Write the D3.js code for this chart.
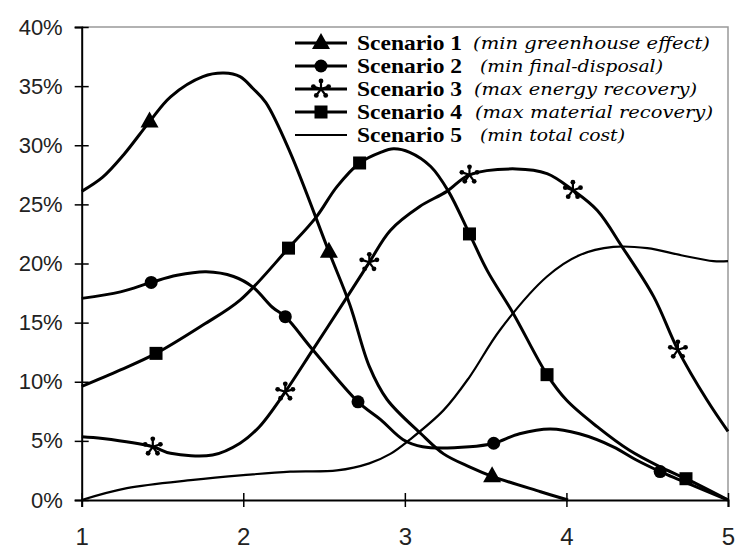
<!DOCTYPE html>
<html>
<head>
<meta charset="utf-8">
<script src="https://cdn.jsdelivr.net/npm/d3@7"></script>
<style>
  body { margin: 0; background: #fff; }
  svg { display: block; }
</style>
</head>
<body>
<script>
'use strict';

// x ticks and y ticks (percent)
const xTicks = [1, 2, 3, 4, 5];
const yTicks = [0, 5, 10, 15, 20, 25, 30, 35, 40];

// curves: [x, percent]
const s1 = [[1.00, 26.1], [1.13, 27.3], [1.26, 29.2], [1.42, 32.0], [1.55, 34.1], [1.75, 35.8], [1.88, 36.1],
  [1.98, 35.8], [2.06, 34.8], [2.14, 33.6], [2.29, 29.4], [2.53, 21.0], [2.66, 16.5], [2.78, 11.3], [2.89, 8.5],
  [3.10, 5.6], [3.24, 3.9], [3.40, 2.8], [3.54, 2.0], [3.84, 0.7], [4.01, 0]];
const s2 = [[1.00, 17.05], [1.24, 17.6], [1.43, 18.4], [1.59, 19.0], [1.77, 19.3], [1.94, 18.9], [2.06, 18.0],
  [2.18, 16.3], [2.26, 15.5], [2.43, 12.7], [2.71, 8.3], [2.85, 6.8], [2.99, 5.1], [3.11, 4.5], [3.40, 4.5],
  [3.55, 4.8], [3.71, 5.6], [3.90, 6.0], [4.08, 5.6], [4.29, 4.5], [4.43, 3.4], [4.58, 2.4], [4.70, 1.7], [5.00, 0]];
const s3 = [[1.00, 5.35], [1.13, 5.2], [1.44, 4.5], [1.55, 3.95], [1.81, 3.8], [1.98, 4.8], [2.10, 6.2],
  [2.26, 9.15], [2.43, 12.7], [2.63, 16.9], [2.78, 20.1], [2.91, 22.8], [3.09, 24.8], [3.26, 26.1], [3.40, 27.5],
  [3.69, 28.0], [3.88, 27.6], [4.04, 26.2], [4.19, 24.5], [4.35, 21.3], [4.54, 17.2], [4.69, 12.7], [4.87, 8.45], [5.00, 5.8]];
const s4 = [[1.00, 9.6], [1.24, 11.0], [1.46, 12.4], [1.75, 14.8], [1.98, 16.9], [2.28, 21.3], [2.45, 23.9],
  [2.58, 26.5], [2.72, 28.5], [2.85, 29.4], [2.93, 29.7], [3.03, 29.4], [3.16, 28.2], [3.27, 26.1], [3.40, 22.5],
  [3.51, 19.4], [3.67, 15.8], [3.88, 10.6], [4.00, 8.45], [4.19, 6.2], [4.39, 4.2], [4.58, 2.8], [4.74, 1.8], [5.00, 0]];
const s5 = [[1.00, 0], [1.28, 1.0], [1.69, 1.7], [2.00, 2.1], [2.29, 2.4], [2.58, 2.5], [2.78, 3.1], [2.91, 3.9],
  [3.03, 5.1], [3.24, 7.6], [3.40, 10.4], [3.59, 14.4], [3.88, 18.9], [4.08, 20.7], [4.29, 21.4], [4.50, 21.3],
  [4.71, 20.7], [4.91, 20.2], [5.00, 20.2]];

// where the markers sit
const s1Marks = [[1.42, 32.0], [2.53, 21.0], [3.54, 2.0]];
const s2Marks = [[1.43, 18.4], [2.26, 15.5], [2.71, 8.3], [3.55, 4.8], [4.58, 2.4]];
const s3Marks = [[1.44, 4.5], [2.26, 9.15], [2.78, 20.1], [3.40, 27.5], [4.04, 26.2], [4.69, 12.7]];
const s4Marks = [[1.46, 12.4], [2.28, 21.3], [2.72, 28.5], [3.40, 22.5], [3.88, 10.6], [4.74, 1.8]];

const names = ['Scenario 1', 'Scenario 2', 'Scenario 3', 'Scenario 4', 'Scenario 5'];
const notes = ['(min greenhouse effect)', '(min final-disposal)', '(max energy recovery)',
  '(max material recovery)', '(min total cost)'];
const symbols = ['triangle', 'circle', 'star', 'square', 'none'];

const svg = d3.select('body').append('svg')
  .attr('width', 735)
  .attr('height', 554);

const x = d3.scaleLinear().domain([1, 5]).range([81.7, 728]);
const y = d3.scaleLinear().domain([0, 40]).range([500, 27]);

// plot area border (top + right, grey)
svg.append('path')
  .attr('d', `M${x(1)},${y(40)}H${x(5)}V${y(0)}`)
  .attr('fill', 'none')
  .attr('stroke', '#999')
  .attr('stroke-width', 1.5);

// y axis with cross ticks
let yAxis = svg.append('g')
  .attr('transform', `translate(${x(1)},0)`)
  .call(d3.axisLeft(y).tickValues(yTicks).tickSize(7).tickPadding(12).tickFormat(d => d + '%'));
yAxis.select('.domain').attr('stroke', '#000').attr('stroke-width', 2);
yAxis.selectAll('.tick line').attr('x1', -7).attr('x2', 7).attr('stroke-width', 1.5);
yAxis.selectAll('.tick text')
  .style('font-family', 'Liberation Sans, Arial, sans-serif')
  .style('font-size', '22px')
  .attr('fill', '#222');

// x axis with cross ticks
let xAxis = svg.append('g')
  .attr('transform', `translate(0,${y(0)})`)
  .call(d3.axisBottom(x).tickValues(xTicks).tickSize(7).tickPadding(21).tickFormat(d3.format('d')));
xAxis.select('.domain').attr('stroke', '#000').attr('stroke-width', 2);
xAxis.selectAll('.tick line').attr('y1', -7).attr('y2', 7).attr('stroke-width', 1.5);
xAxis.selectAll('.tick text')
  .style('font-family', 'Liberation Sans, Arial, sans-serif')
  .style('font-size', '24px')
  .attr('fill', '#222');

// curves
const line = d3.line()
  .x(d => x(d[0]))
  .y(d => y(d[1]))
  .curve(d3.curveCatmullRom.alpha(0.5));

[s1, s2, s3, s4, s5].forEach((s, i) => {
  svg.append('path')
    .datum(s)
    .attr('fill', 'none')
    .attr('stroke', '#000')
    .attr('stroke-width', i == 4 ? 2.2 : 3)
    .attr('stroke-linejoin', 'round')
    .attr('d', line);
});

// draw one marker at px, py
function drawMarker(g, kind, px, py) {
  if (kind == 'triangle') {
    g.append('path')
      .attr('d', `M${px},${py - 10}L${px + 9},${py + 6}L${px - 9},${py + 6}Z`)
      .attr('fill', '#000');
  } else if (kind == 'circle') {
    g.append('circle').attr('cx', px).attr('cy', py).attr('r', 6.5).attr('fill', '#000');
  } else if (kind == 'square') {
    g.append('rect').attr('x', px - 6.5).attr('y', py - 6.5)
      .attr('width', 13).attr('height', 13).attr('fill', '#000');
  } else if (kind == 'star') {
    [-90, -18, 54, 126, 198].forEach(a => {
      let r = a * Math.PI / 180;
      let ex = px + 8 * Math.cos(r);
      let ey = py + 8 * Math.sin(r);
      g.append('line').attr('x1', px).attr('y1', py).attr('x2', ex).attr('y2', ey)
        .attr('stroke', '#000').attr('stroke-width', 2.2);
      g.append('circle').attr('cx', ex).attr('cy', ey).attr('r', 2.4).attr('fill', '#000');
    });
  }
}

let markers = svg.append('g');
[s1Marks, s2Marks, s3Marks, s4Marks].forEach((m, i) => {
  m.forEach(d => drawMarker(markers, symbols[i], x(d[0]), y(d[1])));
});

// legend, text widths matched to the picture
const noteX = [473, 480, 474, 475, 480];
const noteW = [237, 183, 223, 238, 145];
let legend = svg.append('g');
names.forEach((n, i) => {
  let ly = 43 + i * 23;
  legend.append('line')
    .attr('x1', 295).attr('x2', 347)
    .attr('y1', ly).attr('y2', ly)
    .attr('stroke', '#000')
    .attr('stroke-width', i == 4 ? 2.2 : 3);
  drawMarker(legend, symbols[i], 321, ly);
  legend.append('text')
    .attr('x', 357)
    .attr('y', ly + 7)
    .attr('textLength', 105)
    .attr('lengthAdjust', 'spacingAndGlyphs')
    .style('font-family', 'Liberation Serif, Times New Roman, serif')
    .style('font-weight', 'bold')
    .style('font-size', '21px')
    .text(n);
  legend.append('text')
    .attr('x', noteX[i])
    .attr('y', ly + 6)
    .attr('textLength', noteW[i])
    .attr('lengthAdjust', 'spacingAndGlyphs')
    .style('font-family', 'DejaVu Serif, serif')
    .style('font-style', 'italic')
    .style('font-size', '17px')
    .text(notes[i]);
});
</script>
</body>
</html>
